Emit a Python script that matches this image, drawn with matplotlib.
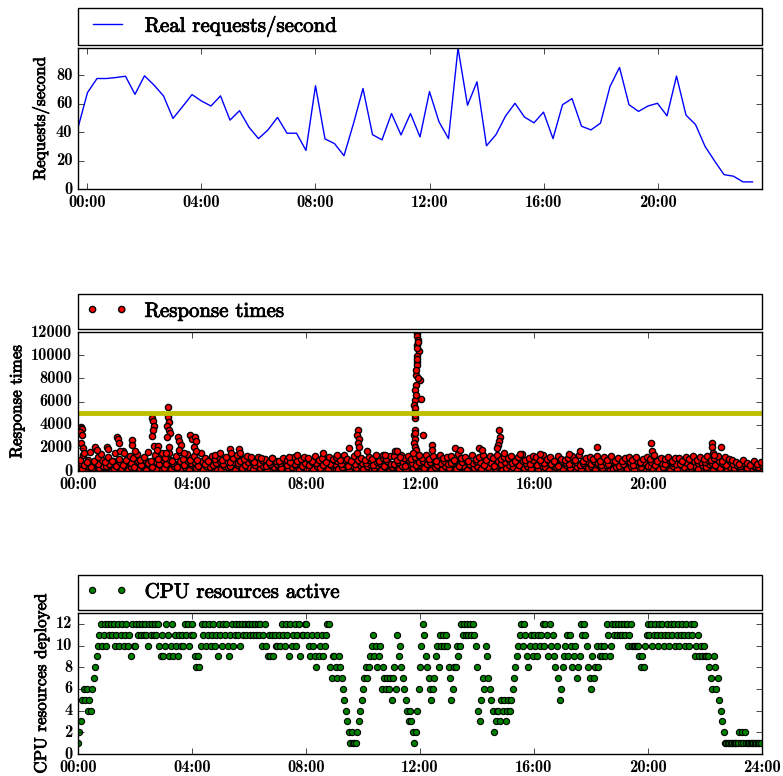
import matplotlib
matplotlib.use("Agg")
import matplotlib.pyplot as plt
import matplotlib.patheffects as pe
from matplotlib.ticker import MultipleLocator, FuncFormatter
import numpy as np

# real requests/second, one value every 20 minutes (first one at 23:40 the day before)
req_start_min = -20
req_step_min = 20
requests = [43, 67.7, 77.6, 77.6, 78.3, 79.2, 66.5, 79.5, 73, 65.4, 49.6, 57.8,
            66.3, 61.8, 58.3, 65.4, 48.4, 55, 43.4, 35.4, 41.5, 50.3, 39.2, 39.2,
            27.1, 72.5, 35.2, 31.9, 23.4, 46, 70.6, 38.2, 34.5, 53, 38, 53,
            36.6, 68.4, 47.2, 35.4, 99, 58.8, 75.3, 30.4, 38.2, 51.2, 60.2, 50.5,
            46.5, 54, 35.4, 59.2, 63.5, 44.1, 41.5, 46.3, 72, 85.4, 59.2, 54.5,
            58.3, 60.2, 51.4, 79.3, 51.9, 45.3, 30, 19.8, 10.1, 9, 5, 5]

# response times (ms), five sampling passes every 7.5 min, each offset a bit
resp_step_min = 7.5
resp_a = [420, 180, 560, 310, 90, 640, 250, 470,
          330, 610, 150, 480, 270, 700, 120, 390,
          560, 230, 410, 80, 650, 340, 190, 520,
          280, 690, 140, 450, 600, 220, 380, 110,
          500, 260, 630, 170, 420, 330, 580, 90,
          210, 470, 340, 620, 130, 550, 260, 400,
          360, 140, 590, 280, 470, 100, 520, 310,
          450, 230, 660, 180, 390, 560, 120, 340,
          270, 610, 150, 430, 300, 680, 200, 510,
          580, 190, 380, 640, 110, 460, 290, 540,
          160, 420, 600, 250, 500, 130, 370, 650,
          330, 560, 200, 470, 90, 620, 280, 440,
          510, 240, 660, 130, 380, 590, 210, 460,
          300, 640, 170, 520, 410, 100, 570, 260,
          430, 150, 580, 320, 690, 220, 480, 120,
          240, 530, 380, 110, 610, 290, 450, 180,
          620, 200, 470, 340, 90, 560, 310, 400,
          150, 490, 260, 640, 380, 170, 530, 300,
          410, 120, 570, 240, 480, 650, 200, 350,
          280, 600, 180, 440, 130, 520, 390, 610,
          470, 230, 620, 160, 350, 580, 100, 430,
          190, 540, 310, 660, 250, 420, 140, 500,
          360, 620, 130, 450, 280, 570, 210, 390,
          240, 460, 150, 380, 520, 200, 330, 170]
resp_b = [980, 1350, 760, 1620, 890, 1180, 1450, 820,
          1240, 870, 1580, 1030, 1690, 940, 1320, 1110,
          1480, 960, 1210, 1640, 870, 1390, 1050, 1560,
          1120, 1530, 890, 1270, 1680, 1010, 1440, 930,
          1330, 990, 1570, 1090, 850, 1260, 1020, 1180,
          940, 1210, 780, 1120, 1380, 860, 1050, 1290,
          1080, 820, 1190, 920, 1030, 760, 1150, 880,
          860, 1120, 940, 780, 1240, 900, 1060, 1180,
          1010, 880, 1290, 970, 1140, 820, 1230, 1060,
          1180, 930, 1350, 1060, 840, 1270, 990, 1110,
          920, 1240, 1080, 1380, 870, 1150, 1010, 1300,
          1260, 980, 1410, 1120, 1300, 1050, 1190, 1340,
          1150, 1420, 1020, 1280, 890, 1360, 1100, 1240,
          1310, 980, 1460, 1140, 1220, 870, 1390, 1060,
          1180, 1420, 960, 1300, 1110, 1380, 1020, 1250,
          1090, 1330, 880, 1210, 1440, 980, 1160, 1270,
          1240, 960, 1370, 1080, 1190, 860, 1310, 1020,
          930, 1150, 1290, 990, 1380, 870, 1120, 1240,
          1060, 1310, 900, 1190, 970, 1260, 840, 1130,
          880, 1090, 1220, 940, 1170, 820, 1050, 1200,
          1010, 1280, 900, 1160, 1040, 1230, 860, 1120,
          1130, 890, 1210, 1000, 1290, 940, 1170, 1060,
          1260, 980, 1150, 1320, 900, 1200, 1080, 960,
          820, 640, 930, 710, 560, 880, 650, 740]
resp_c = [150, 380, 60, 510, 240, 420, 90, 330,
          470, 120, 290, 560, 200, 40, 390, 250,
          80, 440, 310, 190, 580, 130, 360, 220,
          350, 70, 500, 260, 140, 450, 30, 600,
          190, 540, 100, 370, 250, 470, 160, 310,
          430, 60, 290, 180, 520, 340, 110, 240,
          110, 480, 220, 400, 50, 330, 590, 170,
          260, 570, 90, 320, 470, 140, 380, 60,
          500, 130, 350, 70, 560, 230, 410, 150,
          140, 420, 260, 540, 90, 310, 180, 470,
          380, 60, 240, 110, 330, 490, 200, 90,
          170, 390, 70, 580, 260, 140, 450, 320,
          90, 350, 440, 230, 130, 520, 60, 280,
          450, 200, 80, 360, 260, 540, 140, 400,
          60, 330, 240, 510, 130, 390, 280, 570,
          410, 90, 560, 250, 170, 440, 60, 330,
          300, 470, 110, 220, 530, 140, 380, 70,
          520, 80, 370, 190, 450, 260, 100, 420,
          160, 330, 60, 490, 240, 110, 400, 560,
          480, 150, 310, 70, 380, 250, 540, 120,
          110, 390, 260, 500, 70, 310, 450, 200,
          340, 80, 460, 150, 580, 220, 370, 90,
          60, 280, 400, 190, 530, 110, 340, 250,
          390, 100, 270, 60, 180, 440, 90, 260]
resp_d = [720, 540, 910, 380, 850, 610, 980, 450,
          630, 880, 410, 760, 560, 940, 690, 330,
          840, 500, 960, 690, 390, 780, 600, 920,
          580, 950, 720, 360, 830, 540, 880, 670,
          760, 410, 870, 650, 980, 500, 720, 850,
          620, 900, 460, 790, 680, 970, 530, 740,
          830, 560, 720, 990, 410, 650, 860, 590,
          680, 940, 510, 770, 620, 880, 450, 730,
          560, 820, 690, 940, 480, 760, 600, 910,
          870, 620, 980, 450, 750, 570, 830, 690,
          710, 930, 540, 820, 660, 400, 880, 610,
          590, 760, 880, 430, 940, 700, 520, 810,
          840, 620, 750, 960, 510, 690, 900, 570,
          660, 890, 430, 780, 950, 600, 730, 840,
          790, 540, 910, 660, 420, 870, 610, 740,
          930, 680, 790, 520, 860, 710, 580, 950,
          560, 810, 690, 940, 640, 780, 470, 880,
          720, 600, 950, 810, 530, 690, 890, 640,
          880, 700, 530, 820, 610, 940, 740, 460,
          650, 910, 760, 560, 870, 690, 800, 430,
          780, 540, 890, 700, 610, 960, 730, 580,
          600, 850, 720, 430, 900, 660, 810, 750,
          920, 690, 560, 840, 730, 480, 870, 650,
          540, 420, 680, 300, 590, 470, 360, 510]
resp_e = [210, 60, 340, 130, 400, 30, 270, 180,
          90, 310, 240, 40, 420, 160, 350, 70,
          280, 120, 30, 370, 200, 440, 100, 250,
          50, 330, 190, 410, 80, 260, 140, 360,
          300, 40, 220, 130, 390, 70, 250, 430,
          150, 380, 20, 260, 110, 320, 430, 60,
          240, 90, 410, 160, 300, 30, 200, 350,
          120, 350, 250, 40, 280, 420, 170, 90,
          330, 60, 200, 290, 20, 380, 110, 240,
          40, 270, 420, 150, 330, 80, 400, 190,
          260, 150, 70, 360, 200, 20, 290, 130,
          410, 30, 230, 120, 350, 270, 60, 180,
          200, 440, 100, 320, 50, 250, 370, 140,
          70, 290, 360, 20, 180, 420, 230, 110,
          340, 120, 50, 260, 400, 80, 190, 300,
          130, 380, 230, 60, 310, 150, 420, 40,
          180, 50, 300, 410, 140, 260, 20, 350,
          310, 240, 90, 150, 30, 390, 220, 110,
          60, 400, 190, 280, 120, 330, 20, 240,
          220, 40, 370, 130, 260, 10, 190, 300,
          290, 160, 80, 320, 210, 40, 360, 110,
          50, 310, 220, 90, 400, 140, 260, 30,
          190, 430, 70, 330, 20, 250, 120, 380,
          80, 230, 330, 140, 40, 290, 180, 20]

# slow requests (hour of day, ms)
slow_hour = [0.10, 0.13, 0.08, 0.15, 0.12, 0.18, 0.20, 0.60, 0.65, 1.00, 1.05,
             1.38, 1.42, 1.45, 1.48, 1.60, 1.88, 1.90, 2.00,
             2.60, 2.62, 2.65, 2.63, 2.58, 2.67, 2.82, 2.78,
             3.10, 3.17, 3.15, 3.18, 3.12, 3.20, 3.22, 3.12, 3.20,
             3.52, 3.55, 3.60, 3.55, 3.70, 3.93, 3.98, 4.10, 4.15, 4.05, 4.15,
             4.80, 4.98, 5.33, 5.35, 5.63, 5.68, 6.05, 6.42, 6.80, 7.38, 7.67,
             8.08, 8.60, 9.07, 9.50, 9.80, 9.78, 9.85, 9.82, 9.85, 9.78, 10.13,
             10.70, 10.77, 11.10, 11.18, 11.30,
             11.88, 11.90, 11.92, 11.90, 11.96, 11.88, 11.88, 11.90, 11.86, 12.00,
             11.85, 11.83, 12.02, 11.83, 11.78, 11.81, 11.78, 11.80, 11.83, 11.78,
             11.83, 11.78, 11.81, 11.86, 12.09, 11.76, 11.94, 11.85, 11.87, 11.92,
             11.84, 11.80, 11.82, 11.89, 11.91,
             12.40, 12.40, 13.20, 13.38, 14.05, 14.16,
             14.75, 14.78, 14.75, 14.72, 14.70, 14.93,
             15.50, 16.20, 17.20, 17.60, 18.20, 20.08, 20.12, 20.20,
             22.23, 22.23, 22.55, 22.25, 22.30]
slow_ms = [3800, 3600, 3400, 3100, 2400, 2000, 1600, 2100, 1800, 2100, 1900,
           2950, 2750, 2400, 1700, 1550, 2700, 2250, 1700,
           4550, 4300, 3850, 3500, 3000, 2200, 2150, 1800,
           1550, 5550, 4700, 4250, 3850, 3550, 3250, 2950, 2100,
           2950, 2550, 2250, 1800, 1550, 3100, 2800, 2950, 2550, 2100, 1700,
           1400, 1550, 1900, 1550, 1900, 1550, 1250, 1100, 1100, 1250, 1400,
           1100, 1550, 1400, 1950, 3550, 3100, 2800, 2400, 2100, 1550, 1700,
           1400, 1400, 1700, 1700, 1250,
           11900, 11650, 11350, 10900, 10350, 9900, 9450, 9150, 8300, 7850,
           7450, 7000, 6250, 6150, 5700, 5400, 5000, 4550, 3550, 3100,
           2800, 2400, 2100, 1800, 3100, 1550, 1400, 8700, 10600, 11100,
           6600, 4800, 3300, 9700, 8000,
           2250, 1800, 1950, 1800, 1950, 1800,
           3550, 2950, 2550, 2250, 1950, 1550,
           1450, 1450, 1450, 1700, 2100, 2450, 1750, 1400,
           2450, 2100, 2050, 1550, 1400]
sla_ms = 5000

# CPU resources deployed, sampled every 3 minutes
cpu_step_min = 3
cpus = [1, 2, 3, 5, 6, 5, 6, 4, 5, 4, 6, 7, 8, 9, 10, 11, 12, 10, 11, 12,
        10, 12, 11, 12, 11, 12, 10, 11, 12, 10, 11, 12, 10, 11, 12, 10, 11, 9, 12, 10,
        10, 12, 11, 12, 11, 12, 11, 12, 11, 10, 12, 11, 12, 11, 12, 11, 12, 10, 9, 11,
        9, 10, 12, 11, 9, 10, 12, 9, 11, 10, 9, 11, 10, 11, 10, 12, 11, 12, 10, 11,
        12, 11, 9, 8, 9, 8, 10, 12, 11, 12, 10, 11, 12, 10, 11, 12, 10, 11, 9, 12,
        11, 10, 12, 11, 12, 10, 9, 11, 12, 10, 11, 12, 11, 12, 10, 12, 11, 12, 11, 12,
        12, 11, 12, 11, 12, 11, 12, 11, 12, 10, 11, 12, 10, 9, 11, 9, 11, 9, 11, 10,
        10, 11, 10, 12, 11, 10, 12, 11, 9, 12, 10, 11, 12, 10, 11, 12, 9, 11, 11, 12,
        12, 11, 10, 9, 11, 10, 9, 8, 11, 9, 10, 11, 9, 10, 11, 12, 12, 8, 7, 9,
        9, 8, 7, 9, 8, 7, 6, 5, 4, 3, 2, 1, 2, 1, 1, 1, 2, 3, 4, 5,
        6, 7, 8, 7, 8, 9, 10, 11, 9, 10, 8, 9, 10, 6, 8, 7, 6, 7, 6, 7,
        5, 7, 8, 6, 11, 9, 10, 8, 7, 6, 5, 4, 3, 4, 3, 2, 1, 2, 4, 6,
        8, 10, 12, 11, 9, 8, 7, 6, 5, 6, 7, 9, 10, 8, 11, 10, 11, 10, 11, 10,
        8, 7, 5, 6, 8, 8, 10, 9, 10, 12, 11, 12, 11, 12, 11, 12, 11, 12, 11, 10,
        8, 4, 3, 5, 7, 6, 10, 9, 7, 6, 5, 4, 2, 3, 4, 4, 3, 5, 4, 5,
        3, 4, 5, 4, 5, 6, 7, 8, 9, 10, 11, 12, 10, 12, 11, 9, 8, 10, 11, 9,
        11, 10, 9, 11, 10, 11, 12, 10, 12, 11, 9, 12, 10, 11, 9, 8, 10, 7, 5, 6,
        8, 9, 10, 11, 9, 11, 10, 8, 9, 10, 7, 8, 9, 12, 11, 12, 11, 10, 8, 7,
        6, 9, 7, 8, 10, 8, 9, 10, 9, 10, 9, 12, 11, 9, 10, 12, 11, 12, 11, 12,
        11, 12, 11, 12, 11, 12, 10, 11, 12, 10, 10, 10, 10, 10, 9, 8, 9, 8, 10, 11,
        12, 11, 12, 10, 11, 12, 11, 10, 12, 11, 12, 10, 11, 12, 11, 10, 12, 11, 12, 10,
        11, 12, 10, 11, 12, 11, 10, 12, 11, 10, 12, 11, 12, 9, 10, 11, 9, 10, 9, 10,
        9, 9, 9, 8, 7, 6, 9, 8, 6, 7, 5, 4, 3, 2, 1, 1, 1, 1, 1, 1,
        1, 1, 1, 1, 2, 1, 2, 1, 2, 1, 1, 1, 1, 1, 1, 1, 1, 1, 1, 1]

# sample times in hours
req_t = (req_start_min + req_step_min * np.arange(len(requests))) / 60.0
resp_t = np.concatenate([resp_step_min * (np.arange(len(resp_e)) + 0.125) / 60.0,
                         resp_step_min * (np.arange(len(resp_c)) + 0.25) / 60.0,
                         resp_step_min * np.arange(len(resp_a)) / 60.0,
                         resp_step_min * (np.arange(len(resp_d)) + 0.75) / 60.0,
                         resp_step_min * (np.arange(len(resp_b)) + 0.5) / 60.0,
                         slow_hour])
resp_v = np.concatenate([resp_e, resp_c, resp_a, resp_d, resp_b, slow_ms])
cpu_t = cpu_step_min * np.arange(len(cpus)) / 60.0

plt.style.use('classic')
plt.rcParams['font.family'] = 'cmb10'
plt.rcParams['font.size'] = 11.8
plt.rcParams['xtick.major.pad'] = 4.5
plt.rcParams['figure.facecolor'] = 'white'
plt.rcParams['savefig.facecolor'] = 'white'
plt.rcParams['axes.unicode_minus'] = False

hour_fmt = FuncFormatter(lambda x, pos: "%02d:00" % int(round(x)))
thicken = [pe.withStroke(linewidth=0.6, foreground='k')]
label_font = {'family': 'cmr10', 'size': 12.2}
leg_kw = dict(bbox_to_anchor=(0, 1.021, 1, 0.1), loc='lower left', mode='expand',
              borderaxespad=0, prop={'family': 'cmr10', 'size': 15},
              scatterpoints=2, scatteryoffsets=[0.5])

fig = plt.figure(figsize=(7.83, 7.76), dpi=100)
ax1 = fig.add_axes([0.0996, 0.7564, 0.8736, 0.1817])
ax2 = fig.add_axes([0.0996, 0.3930, 0.8736, 0.1791])
ax3 = fig.add_axes([0.0996, 0.02835, 0.8736, 0.1817])

ax1.plot(req_t, requests, color='b', label='Real requests/second')
ax1.set_xlim(req_t[0], req_t[0] + 24)
ax1.set_ylim(0, max(requests))
ax1.set_ylabel('Requests/second', fontdict=label_font, path_effects=thicken)

ax2.scatter(resp_t, resp_v, s=20, c='r', edgecolors='k', linewidths=1.0,
            label='Response times')
ax2.axhline(sla_ms, color='y', lw=3.5)
ax2.set_xlim(0, 23.98)
ax2.set_ylim(0, 12000)
ax2.set_ylabel('Response times', fontdict=label_font, path_effects=thicken)

ax3.scatter(cpu_t, cpus, s=20, c='g', edgecolors='k', linewidths=0.8,
            label='CPU resources active')
ax3.set_xlim(0, 24)
ax3.set_ylim(0, 13)
ax3.set_ylabel('CPU resources deployed', fontdict=label_font, path_effects=thicken)

for ax in (ax1, ax2, ax3):
    ax.xaxis.set_major_locator(MultipleLocator(4))
    ax.xaxis.set_major_formatter(hour_fmt)
    leg = ax.legend(**leg_kw)
    for txt in leg.get_texts():
        txt.set_path_effects(thicken)

fig.savefig('out.png', dpi=100)
